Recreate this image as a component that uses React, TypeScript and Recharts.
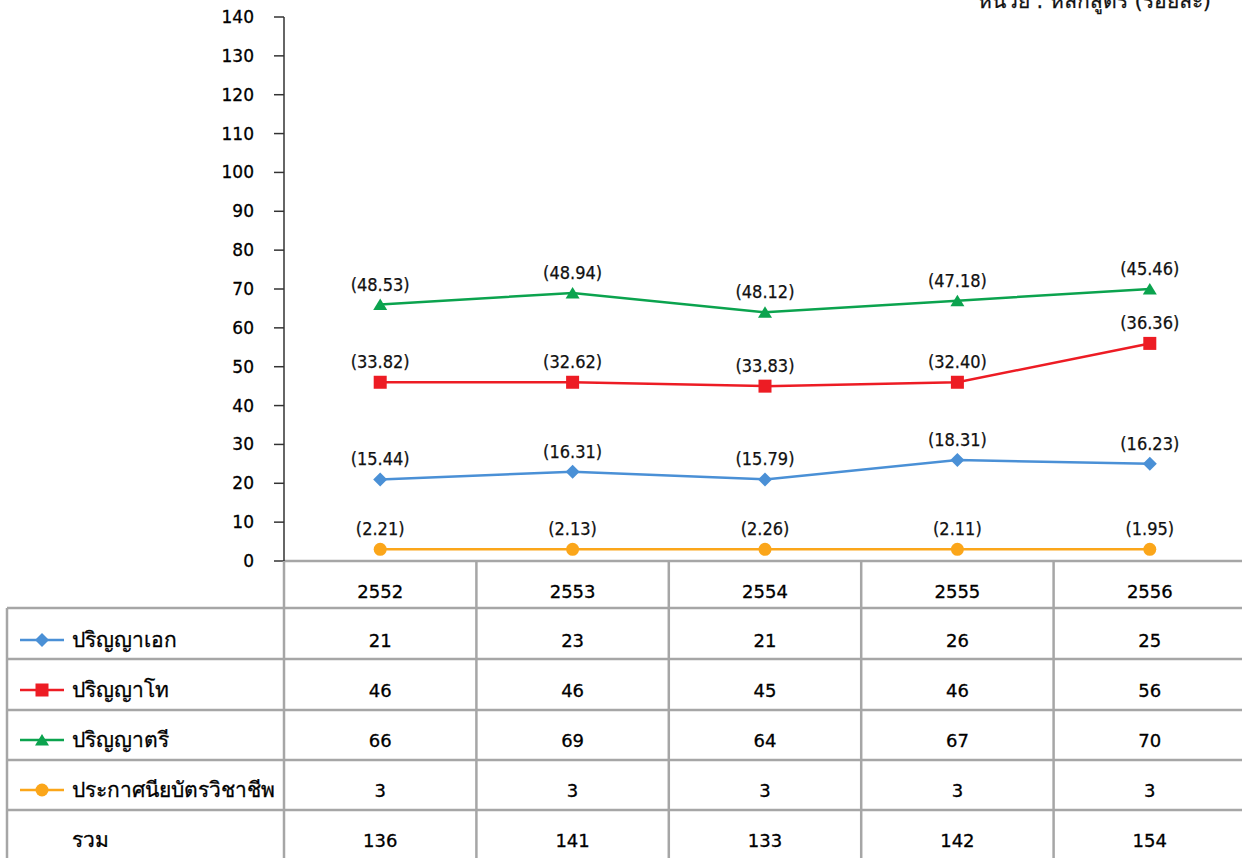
import React from 'react';
import { LineChart, Line, XAxis, YAxis } from 'recharts';

const years = ['2552', '2553', '2554', '2555', '2556'];
const doctoral = [21, 23, 21, 26, 25];
const master = [46, 46, 45, 46, 56];
const bachelor = [66, 69, 64, 67, 70];
const certificate = [3, 3, 3, 3, 3];
const doctoralPct = ['15.44', '16.31', '15.79', '18.31', '16.23'];
const masterPct = ['33.82', '32.62', '33.83', '32.40', '36.36'];
const bachelorPct = ['48.53', '48.94', '48.12', '47.18', '45.46'];
const certificatePct = ['2.21', '2.13', '2.26', '2.11', '1.95'];
const totals = [136, 141, 133, 142, 154];
const yTicks = [0, 10, 20, 30, 40, 50, 60, 70, 80, 90, 100, 110, 120, 130, 140];
const seriesNames = ['ปริญญาเอก', 'ปริญญาโท', 'ปริญญาตรี', 'ประกาศนียบัตรวิชาชีพ'];
const totalLabel = 'รวม';
const unitLabel = 'หน่วย : หลักสูตร (ร้อยละ)';

const FONT = "'DejaVu Sans Condensed', 'DejaVu Sans', sans-serif";
const FONT_WIDE = "'DejaVu Sans', sans-serif";
const GRID = '#a6a6a6';
const TEXT_STROKE = 0.3;

type Shape = 'diamond' | 'square' | 'triangle' | 'circle';

const series = [
  { key: 'doc', name: seriesNames[0], color: '#4a90d6', shape: 'diamond' as Shape, values: doctoral, pct: doctoralPct },
  { key: 'mas', name: seriesNames[1], color: '#ed1c24', shape: 'square' as Shape, values: master, pct: masterPct },
  { key: 'bac', name: seriesNames[2], color: '#0ba34e', shape: 'triangle' as Shape, values: bachelor, pct: bachelorPct },
  { key: 'cer', name: seriesNames[3], color: '#fba61a', shape: 'circle' as Shape, values: certificate, pct: certificatePct },
];

const data = years.map((y, i) => {
  const row: any = { year: y };
  series.forEach((s) => {
    row[s.key] = s.values[i];
  });
  return row;
});

function Marker({ cx, cy, shape, color }: { cx: number; cy: number; shape: Shape; color: string }) {
  if (shape === 'diamond') {
    const r = 7;
    return <polygon points={`${cx},${cy - r} ${cx + r},${cy} ${cx},${cy + r} ${cx - r},${cy}`} fill={color} />;
  }
  if (shape === 'square') {
    return <rect x={cx - 6.5} y={cy - 6.5} width={13} height={13} fill={color} />;
  }
  if (shape === 'triangle') {
    return <polygon points={`${cx},${cy - 6} ${cx + 7},${cy + 5.5} ${cx - 7},${cy + 5.5}`} fill={color} />;
  }
  return <circle cx={cx} cy={cy} r={6.5} fill={color} />;
}

const HALF_BAND = 96.2;
const ROW_LINES = [47, 98, 149, 199, 249];
const ROW_CENTERS = [79, 129, 179, 229, 279];

function TableTick(props: any) {
  const { x, y, index } = props;
  const cellText = (txt: any, cy: number, k: string) => (
    <text key={k} x={x} y={y + cy + 7} textAnchor="middle" fontFamily={FONT_WIDE} fontSize={18} fill="#000" stroke="#000" strokeWidth={TEXT_STROKE}>
      {txt}
    </text>
  );
  const thai = (txt: string, cy: number, k: string) => (
    <text key={k} x={72} y={y + cy + 7} fontFamily={FONT_WIDE} fontSize={21} fill="#000" stroke="#000" strokeWidth={TEXT_STROKE}>
      {txt}
    </text>
  );
  return (
    <g>
      {index === 0 && (
        <g>
          {ROW_LINES.map((ly, i) => (
            <line key={'h' + i} x1={7} x2={1246} y1={y + ly} y2={y + ly} stroke={GRID} strokeWidth={2.5} />
          ))}
          <line x1={7} x2={7} y1={y + ROW_LINES[0]} y2={y + 300} stroke={GRID} strokeWidth={2.5} />
          {series.map((s, i) => (
            <g key={'lg' + i}>
              <line x1={20} x2={64} y1={y + ROW_CENTERS[i]} y2={y + ROW_CENTERS[i]} stroke={s.color} strokeWidth={2.5} />
              <Marker cx={42} cy={y + ROW_CENTERS[i]} shape={s.shape} color={s.color} />
              {thai(s.name, ROW_CENTERS[i], 't' + i)}
            </g>
          ))}
          {thai(totalLabel, ROW_CENTERS[4], 'tt')}
        </g>
      )}
      <line x1={x - HALF_BAND} x2={x - HALF_BAND} y1={y} y2={y + 300} stroke={GRID} strokeWidth={2.5} />
      {cellText(years[index], 30, 'yr')}
      {series.map((s, i) => cellText(s.values[index], ROW_CENTERS[i], 'v' + i))}
      {cellText(totals[index], ROW_CENTERS[4], 'tot')}
    </g>
  );
}

export default function App() {
  return (
    <div style={{ position: 'absolute', left: 0, top: 0, width: 1242, height: 858, overflow: 'hidden', background: '#fff' }}>
      <LineChart width={1246} height={858} data={data} margin={{ top: 17, right: 0, left: 0, bottom: 0 }}>
        <XAxis
          dataKey="year"
          height={297}
          padding={{ left: HALF_BAND, right: HALF_BAND }}
          axisLine={{ stroke: GRID, strokeWidth: 2.5 }}
          tickLine={false}
          tickSize={0}
          tickMargin={0}
          interval={0}
          tick={<TableTick />}
        />
        <YAxis
          width={284}
          domain={[0, 140]}
          ticks={yTicks}
          interval={0}
          axisLine={{ stroke: '#333', strokeWidth: 1.5 }}
          tickLine={{ stroke: '#333', strokeWidth: 1.5 }}
          tickSize={10}
          tickMargin={20}
          tick={{ fontFamily: FONT_WIDE, fontSize: 17, fill: '#000', stroke: '#000', strokeWidth: TEXT_STROKE }}
        />
        {series.map((s) => (
          <Line
            key={s.key}
            dataKey={s.key}
            stroke={s.color}
            strokeWidth={2.5}
            isAnimationActive={false}
            dot={(p: any) => <Marker key={s.key + p.index} cx={p.cx} cy={p.cy} shape={s.shape} color={s.color} />}
            activeDot={false}
            label={(p: any) => (
              <text key={s.key + 'l' + p.index} x={p.x} y={p.y - 14} textAnchor="middle" fontFamily={FONT} fontSize={18} fill="#111" stroke="#111" strokeWidth={0.25}>
                {'(' + s.pct[p.index] + ')'}
              </text>
            )}
          />
        ))}
      </LineChart>
      <svg width={1242} height={40} style={{ position: 'absolute', left: 0, top: 0 }}>
        <text x={1211} y={8} textAnchor="end" fontFamily={FONT_WIDE} fontSize={21} fill="#111" stroke="#111" strokeWidth={0.25}>
          {unitLabel}
        </text>
      </svg>
    </div>
  );
}
